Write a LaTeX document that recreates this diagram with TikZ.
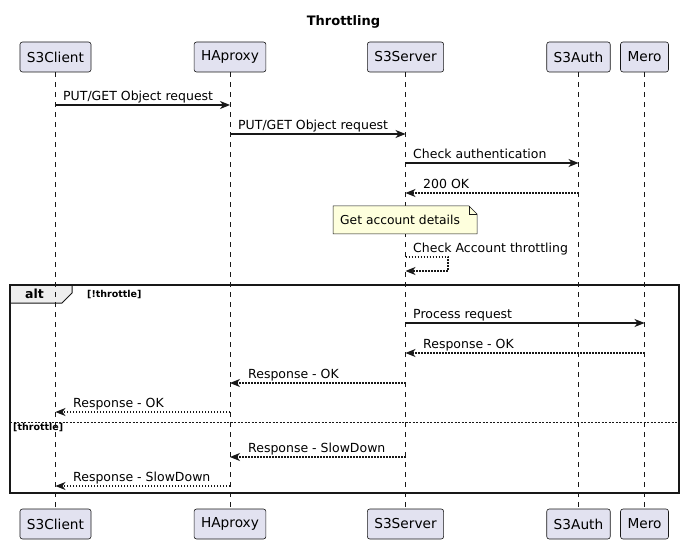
\documentclass[tikz,border=0pt]{standalone}
\usepackage{fontspec}
\setmainfont{DejaVu Sans}
\usetikzlibrary{arrows.meta}
\definecolor{edge}{HTML}{181818}
\definecolor{partfill}{HTML}{E2E2F0}
\definecolor{notefill}{HTML}{FEFFDD}
\definecolor{tabfill}{HTML}{EEEEEE}
\begin{document}
\begin{tikzpicture}[x=1pt,y=-1pt,
  part/.style={draw=edge, fill=partfill, rounded corners=2.5pt, line width=0.6pt,
    minimum height=30pt, inner xsep=7pt, inner ysep=0pt,
    font=\fontsize{13.7}{16}\selectfont, text=black},
  life/.style={draw=edge, line width=0.5pt, dash pattern=on 5pt off 5pt},
  msg/.style={draw=edge, line width=1.1pt, -{Stealth[length=10pt,width=8pt,inset=3pt]}},
  ret/.style={msg, dash pattern=on 1.5pt off 1.5pt},
  lbl/.style={anchor=base west, inner sep=0pt, font=\fontsize{12.5}{14}\selectfont, text=black},
  boldsmall/.style={anchor=west, inner sep=0pt, font=\bfseries\fontsize{9.5}{11}\selectfont},
]
\useasboundingbox (0,0) rectangle (685,545);
\fill[white] (0,0) rectangle (685,545);

% title
\node[font=\bfseries\fontsize{13}{15}\selectfont] (title) at (343.5,22) {Throttling};

% participants
\node[part] (tC) at (55.5,57) {S3Client};
\node[part] (tH) at (230,57) {HAproxy};
\node[part] (tS) at (405.5,57) {S3Server};
\node[part] (tA) at (578.5,57) {S3Auth};
\node[part] (tM) at (644.5,57) {Mero};
\node[part] (bC) at (55.5,524) {S3Client};
\node[part] (bH) at (230,524) {HAproxy};
\node[part] (bS) at (405.5,524) {S3Server};
\node[part] (bA) at (578.5,524) {S3Auth};
\node[part] (bM) at (644.5,524) {Mero};

% alt frame
\coordinate (fTL) at (10,285);
\coordinate (fBR) at (679,493);
\filldraw[fill=tabfill, draw=edge, line width=1pt]
  (10,285) -- (72,285) -- (72,293) -- (62,303) -- (10,303) -- cycle;
\node[font=\bfseries\fontsize{12.5}{14}\selectfont, anchor=west, inner sep=0pt] (alt) at (25,294) {alt};
\node[boldsmall] (g1) at (87,295) {[!throttle]};
\draw[edge, line width=0.8pt, dash pattern=on 2pt off 1.5pt] (10,422) coordinate (sepL) -- (679,422) coordinate (sepR);
\node[boldsmall] (g2) at (13,428) {[throttle]};
\draw[edge, line width=1.6pt] (fTL) rectangle (fBR);

% lifelines
\foreach \p in {C,H,S,A,M} {
  \draw[life] (t\p.south) -- (b\p.north);
}

% note
\filldraw[fill=notefill, draw=edge, line width=0.5pt]
  (333,206) -- (469,206) -- (477,214) -- (477,234) -- (333,234) -- cycle;
\draw[edge, line width=0.5pt] (469,206) -- (469,214) -- (477,214);
\node[anchor=west, inner sep=0pt, font=\fontsize{12.3}{14}\selectfont] (note) at (340,220) {Get account details};

% messages
\draw[msg] (tC |- 0,105) -- (tH |- 0,105);
\node[lbl] (l1) at (63,100.5) {PUT/GET Object request};
\draw[msg] (tH |- 0,134) -- (tS |- 0,134);
\node[lbl] (l2) at (238,129.5) {PUT/GET Object request};
\draw[msg] (tS |- 0,163) -- (tA |- 0,163);
\node[lbl] (l3) at (413,158.5) {Check authentication};
\draw[ret] (tA |- 0,193) -- (tS |- 0,193);
\node[lbl] (l4) at (423,188.5) {200 OK};
\coordinate (s1) at (448,257);
\coordinate (s2) at (448,271);
\draw[ret] (tS |- 0,257) -- (s1) -- (s2) -- (tS |- 0,271);
\node[lbl] (l5) at (413,252.5) {Check Account throttling};
\draw[msg] (tS |- 0,323) -- (tM |- 0,323);
\node[lbl] (l6) at (413,318.5) {Process request};
\draw[ret] (tM |- 0,353) -- (tS |- 0,353);
\node[lbl] (l7) at (423,348.5) {Response - OK};
\draw[ret] (tS |- 0,383) -- (tH |- 0,383);
\node[lbl] (l8) at (248,378.5) {Response - OK};
\draw[ret] (tH |- 0,412) -- (tC |- 0,412);
\node[lbl] (l9) at (73,407.5) {Response - OK};
\draw[ret] (tS |- 0,457) -- (tH |- 0,457);
\node[lbl] (l10) at (248,452.5) {Response - SlowDown};
\draw[ret] (tH |- 0,486) -- (tC |- 0,486);
\node[lbl] (l11) at (73,481.5) {Response - SlowDown};
\end{tikzpicture}
\end{document}
